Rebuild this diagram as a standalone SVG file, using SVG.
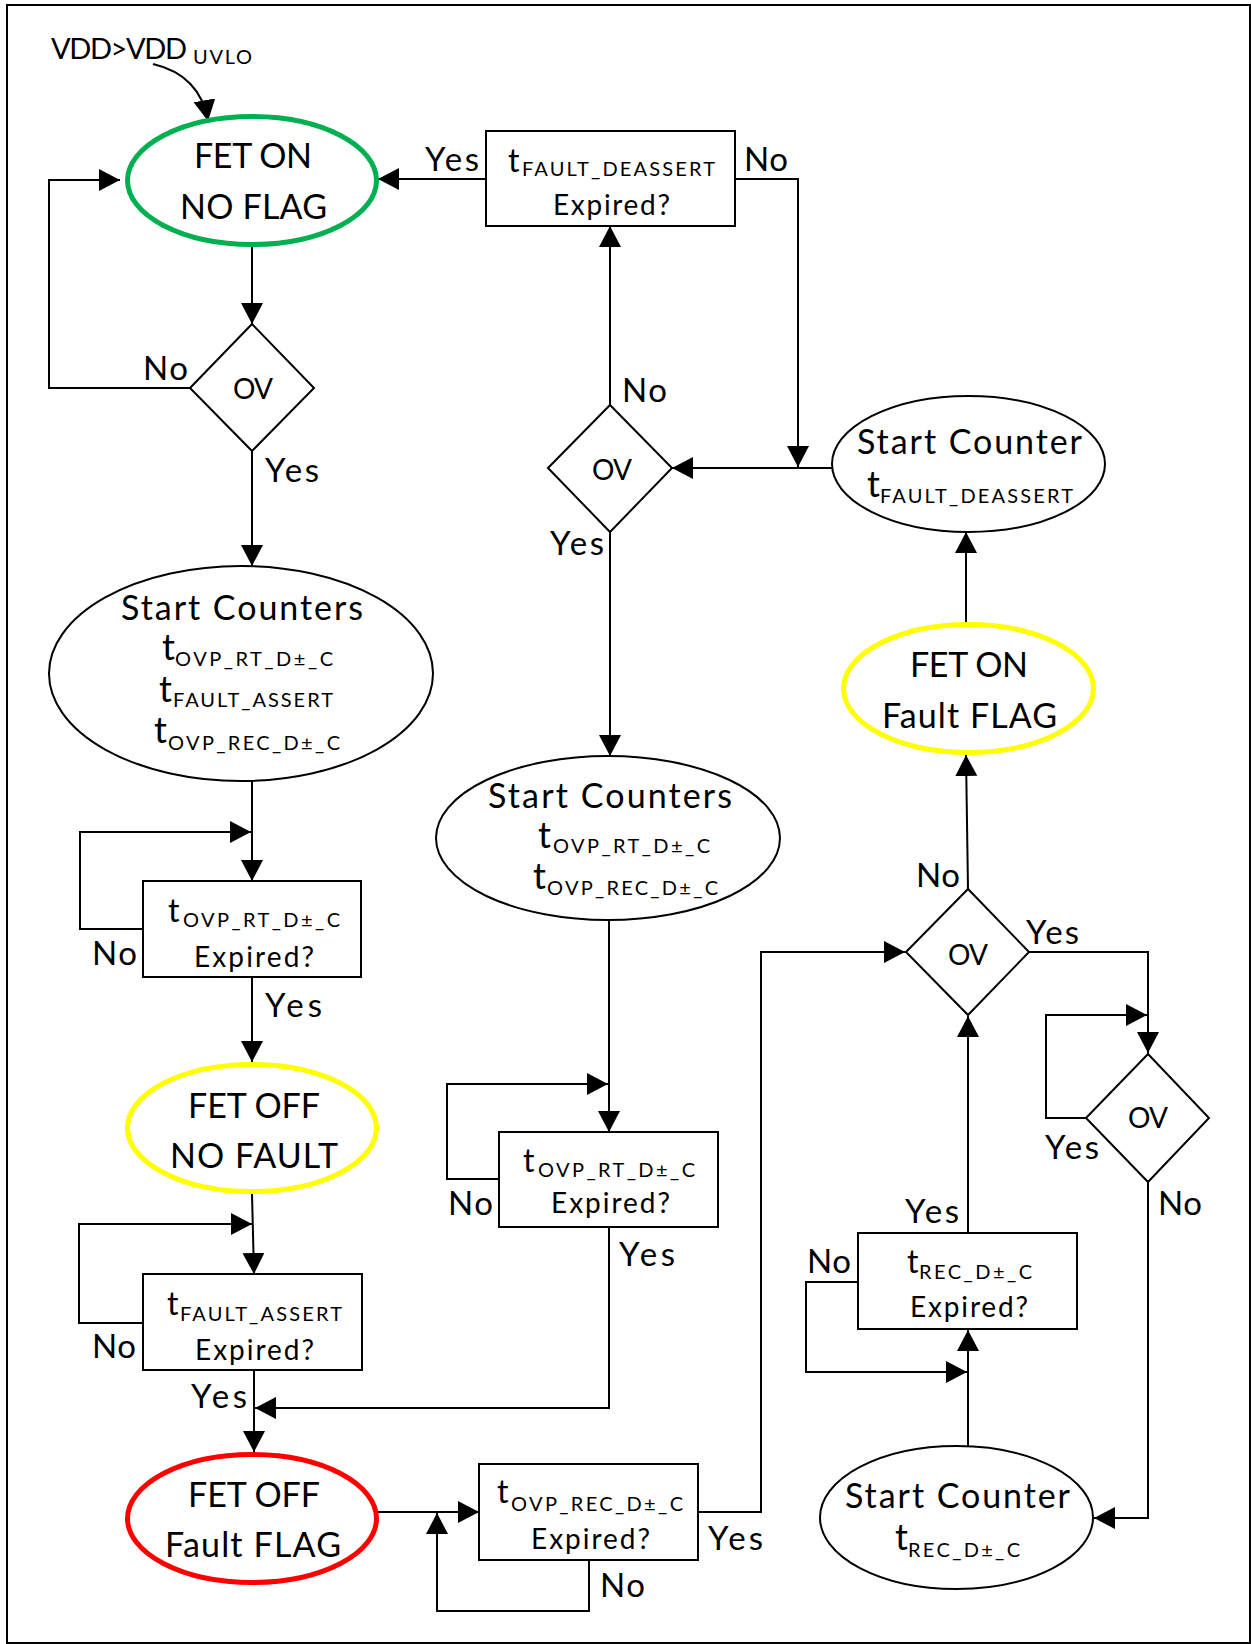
<svg xmlns="http://www.w3.org/2000/svg" width="1251" height="1644" viewBox="0 0 1251 1644">
<defs>
<marker id="a" markerUnits="userSpaceOnUse" markerWidth="24" markerHeight="24" refX="21" refY="11" orient="auto">
<path d="M0,0 L21,11 L0,22 Z" fill="#000"/>
</marker>
<style>
.n{fill:#fff;stroke:#000;stroke-width:2}
.c{fill:none;stroke:#000;stroke-width:2;marker-end:url(#a)}
text{font-family:Lato,Carlito,"Liberation Sans",sans-serif;fill:#000}
.L{font-size:34px}
.T{font-size:36px}
.M{font-size:32px}
.E{font-size:28px}
.S{font-size:20px}
.lb{font-size:33px}
.ov{font-size:28px}
</style>
</defs>
<rect x="0" y="0" width="1251" height="1644" fill="#fff"/>
<rect x="7" y="5" width="1243" height="1638" fill="none" stroke="#000" stroke-width="2"/>

<g id="connectors">
<path class="c" d="M153,64 Q200,75 208,121"/>
<path class="c" d="M252,247 V324"/>
<path class="c" d="M190,388 H49 V180 H120"/>
<path class="c" d="M252,451 V566"/>
<path class="c" d="M252,781 V881"/>
<path class="c" d="M143,929 H80 V832 H251"/>
<path class="c" d="M252,977 V1062"/>
<path class="c" d="M252,1194 L254,1274"/>
<path class="c" d="M143,1323 H79 V1224 H252"/>
<path class="c" d="M254,1370 V1452"/>
<path class="c" d="M377,1512 H479"/>
<path class="c" d="M589,1560 V1611 H437 V1513"/>
<path class="c" d="M698,1512 H761 V952 H905"/>
<path class="c" d="M968,889 L966,755"/>
<path class="c" d="M966,622 V532"/>
<path class="c" d="M832,468 H672"/>
<path class="c" d="M735,179 H798 V467"/>
<path class="c" d="M610,405 V226"/>
<path class="c" d="M486,179 H378"/>
<path class="c" d="M610,532 V756"/>
<path class="c" d="M609,920 V1132"/>
<path class="c" d="M499,1179 H447 V1084 H608"/>
<path class="c" d="M609,1227 V1408 H255"/>
<path class="c" d="M1029,952 H1148 V1053"/>
<path class="c" d="M1086,1118 H1046 V1015 H1147"/>
<path class="c" d="M1148,1182 V1518 H1094"/>
<path class="c" d="M968,1446 V1330"/>
<path class="c" d="M858,1282 H806 V1372 H967"/>
<path class="c" d="M968,1233 V1016"/>
</g>

<g id="start-label">
<text x="51" y="59" style="font-size:29px" textLength="136" lengthAdjust="spacing">VDD&gt;VDD</text>
<text x="193" y="64" style="font-size:20px" textLength="59" lengthAdjust="spacing">UVLO</text>
</g>

<g id="fet-on-no-flag">
<ellipse cx="252" cy="180.5" rx="124.5" ry="64" fill="#fff" stroke="#00B050" stroke-width="5"/>
<text class="L" x="194" y="168" textLength="118" lengthAdjust="spacing">FET ON</text>
<text class="L" x="180" y="219" textLength="147" lengthAdjust="spacing">NO FLAG</text>
</g>

<g id="ov1">
<polygon class="n" points="190,388 252,324 314,388 252,451"/>
<text class="ov" x="233" y="399" textLength="40" lengthAdjust="spacing">OV</text>
<text class="lb" x="143" y="380" textLength="45" lengthAdjust="spacing">No</text>
<text class="lb" x="265" y="482" textLength="54" lengthAdjust="spacing">Yes</text>
</g>

<g id="start-counters-1">
<ellipse class="n" cx="241" cy="673.5" rx="192" ry="107.5"/>
<text class="L" x="121" y="620" textLength="242" lengthAdjust="spacing">Start Counters</text>
<text class="T" x="162" y="660">t</text>
<text class="S" x="175" y="666" textLength="158" lengthAdjust="spacing">OVP_RT_D±_C</text>
<text class="T" x="159" y="702">t</text>
<text class="S" x="173" y="707" textLength="160" lengthAdjust="spacing">FAULT_ASSERT</text>
<text class="T" x="154" y="743">t</text>
<text class="S" x="168" y="750" textLength="172" lengthAdjust="spacing">OVP_REC_D±_C</text>
</g>

<g id="ovp-rt-expired-1">
<rect class="n" x="143" y="881" width="218" height="96"/>
<text class="M" x="168" y="922">t</text>
<text class="S" x="183" y="927" textLength="157" lengthAdjust="spacing">OVP_RT_D±_C</text>
<text class="E" x="194" y="967" textLength="120" lengthAdjust="spacing">Expired?</text>
<text class="lb" x="92" y="965" textLength="45" lengthAdjust="spacing">No</text>
<text class="lb" x="265" y="1017" textLength="57" lengthAdjust="spacing">Yes</text>
</g>

<g id="fet-off-no-fault">
<ellipse cx="252" cy="1128" rx="124.5" ry="63.5" fill="#fff" stroke="#FFFF00" stroke-width="5"/>
<text class="L" x="188" y="1118" textLength="132" lengthAdjust="spacing">FET OFF</text>
<text class="L" x="170" y="1168" textLength="168" lengthAdjust="spacing">NO FAULT</text>
</g>

<g id="fault-assert-expired">
<rect class="n" x="143" y="1274" width="219" height="96"/>
<text class="M" x="167" y="1315">t</text>
<text class="S" x="180" y="1321" textLength="162" lengthAdjust="spacing">FAULT_ASSERT</text>
<text class="E" x="195" y="1360" textLength="119" lengthAdjust="spacing">Expired?</text>
<text class="lb" x="92" y="1358" textLength="44" lengthAdjust="spacing">No</text>
<text class="lb" x="191" y="1408" textLength="56" lengthAdjust="spacing">Yes</text>
</g>

<g id="fet-off-fault-flag">
<ellipse cx="252" cy="1518.5" rx="124.5" ry="64" fill="#fff" stroke="#FF0000" stroke-width="5"/>
<text class="L" x="188" y="1507" textLength="132" lengthAdjust="spacing">FET OFF</text>
<text class="L" x="165" y="1557" textLength="176" lengthAdjust="spacing">Fault FLAG</text>
</g>

<g id="ovp-rec-expired">
<rect class="n" x="479" y="1464" width="219" height="96"/>
<text class="M" x="497" y="1503">t</text>
<text class="S" x="511" y="1511" textLength="172" lengthAdjust="spacing">OVP_REC_D±_C</text>
<text class="E" x="531" y="1549" textLength="119" lengthAdjust="spacing">Expired?</text>
<text class="lb" x="708" y="1550" textLength="55" lengthAdjust="spacing">Yes</text>
<text class="lb" x="600" y="1597" textLength="45" lengthAdjust="spacing">No</text>
</g>

<g id="fault-deassert-expired">
<rect class="n" x="486" y="131" width="249" height="95"/>
<text class="M" x="508" y="172">t</text>
<text class="S" x="522" y="176" textLength="193" lengthAdjust="spacing">FAULT_DEASSERT</text>
<text class="E" x="553" y="215" textLength="117" lengthAdjust="spacing">Expired?</text>
<text class="lb" x="425" y="171" textLength="54" lengthAdjust="spacing">Yes</text>
<text class="lb" x="744" y="171" textLength="44" lengthAdjust="spacing">No</text>
</g>

<g id="ov2">
<polygon class="n" points="548,468 610,405 672,468 610,532"/>
<text class="ov" x="592" y="480" textLength="40" lengthAdjust="spacing">OV</text>
<text class="lb" x="622" y="402" textLength="45" lengthAdjust="spacing">No</text>
<text class="lb" x="550" y="555" textLength="54" lengthAdjust="spacing">Yes</text>
</g>

<g id="start-counter-deassert">
<ellipse class="n" cx="968.5" cy="464" rx="136.5" ry="68"/>
<text class="L" x="857" y="454" textLength="225" lengthAdjust="spacing">Start Counter</text>
<text class="T" x="867" y="497">t</text>
<text class="S" x="880" y="503" textLength="193" lengthAdjust="spacing">FAULT_DEASSERT</text>
</g>

<g id="fet-on-fault-flag">
<ellipse cx="968.5" cy="688.5" rx="125" ry="64" fill="#fff" stroke="#FFFF00" stroke-width="5"/>
<text class="L" x="910" y="677" textLength="118" lengthAdjust="spacing">FET ON</text>
<text class="L" x="882" y="728" textLength="175" lengthAdjust="spacing">Fault FLAG</text>
</g>

<g id="start-counters-2">
<ellipse class="n" cx="608" cy="838" rx="172" ry="82"/>
<text class="L" x="488" y="808" textLength="244" lengthAdjust="spacing">Start Counters</text>
<text class="T" x="538" y="848">t</text>
<text class="S" x="553" y="853" textLength="157" lengthAdjust="spacing">OVP_RT_D±_C</text>
<text class="T" x="533" y="889">t</text>
<text class="S" x="547" y="895" textLength="171" lengthAdjust="spacing">OVP_REC_D±_C</text>
</g>

<g id="ovp-rt-expired-2">
<rect class="n" x="499" y="1132" width="219" height="95"/>
<text class="M" x="523" y="1172">t</text>
<text class="S" x="538" y="1177" textLength="157" lengthAdjust="spacing">OVP_RT_D±_C</text>
<text class="E" x="551" y="1213" textLength="119" lengthAdjust="spacing">Expired?</text>
<text class="lb" x="448" y="1215" textLength="45" lengthAdjust="spacing">No</text>
<text class="lb" x="619" y="1266" textLength="56" lengthAdjust="spacing">Yes</text>
</g>

<g id="ov3">
<polygon class="n" points="906,952 968,889 1029,952 968,1015"/>
<text class="ov" x="948" y="965" textLength="40" lengthAdjust="spacing">OV</text>
<text class="lb" x="916" y="887" textLength="44" lengthAdjust="spacing">No</text>
<text class="lb" x="1026" y="944" textLength="53" lengthAdjust="spacing">Yes</text>
</g>

<g id="ov4">
<polygon class="n" points="1086,1118 1148,1054 1209,1118 1148,1182"/>
<text class="ov" x="1128" y="1128" textLength="40" lengthAdjust="spacing">OV</text>
<text class="lb" x="1045" y="1159" textLength="54" lengthAdjust="spacing">Yes</text>
<text class="lb" x="1158" y="1215" textLength="44" lengthAdjust="spacing">No</text>
</g>

<g id="rec-expired">
<rect class="n" x="858" y="1233" width="219" height="96"/>
<text class="M" x="907" y="1273">t</text>
<text class="S" x="919" y="1279" textLength="113" lengthAdjust="spacing">REC_D±_C</text>
<text class="E" x="910" y="1317" textLength="118" lengthAdjust="spacing">Expired?</text>
<text class="lb" x="905" y="1223" textLength="54" lengthAdjust="spacing">Yes</text>
<text class="lb" x="807" y="1273" textLength="44" lengthAdjust="spacing">No</text>
</g>

<g id="start-counter-rec">
<ellipse class="n" cx="956.5" cy="1517.5" rx="136.5" ry="71.5"/>
<text class="L" x="845" y="1508" textLength="225" lengthAdjust="spacing">Start Counter</text>
<text class="T" x="895" y="1550">t</text>
<text class="S" x="908" y="1557" textLength="112" lengthAdjust="spacing">REC_D±_C</text>
</g>
</svg>
